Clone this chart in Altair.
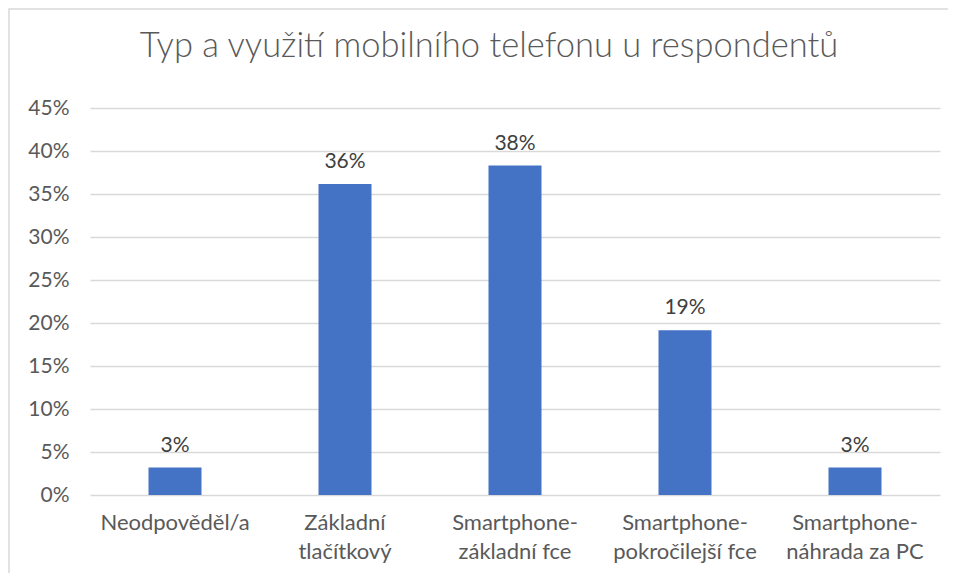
import altair as alt
import pandas as pd

categories = ["Neodpověděl/a", "Základní tlačítkový", "Smartphone-základní fce",
              "Smartphone-pokročilejší fce", "Smartphone-náhrada za PC"]
label_lines = [["Neodpověděl/a"], ["Základní", "tlačítkový"], ["Smartphone-", "základní fce"],
               ["Smartphone-", "pokročilejší fce"], ["Smartphone-", "náhrada za PC"]]
values = [0.0319, 0.3617, 0.3830, 0.1915, 0.0319]
y_ticks = [0, 0.05, 0.10, 0.15, 0.20, 0.25, 0.30, 0.35, 0.40, 0.45]
title_text = "Typ a využití mobilního telefonu u respondentů"

df = pd.DataFrame({"cat": categories, "val": values})

FONT = "Lato"
FS = 21

parts = []
for c, lines in zip(categories, label_lines):
    arr = "[" + ",".join("'" + l + "'" for l in lines) + "]"
    parts.append(f"datum.label == '{c}' ? {arr} : ")
label_expr = "".join(parts) + "datum.label"

x = alt.X("cat:N", sort=categories, title=None,
          scale=alt.Scale(paddingInner=0.69, paddingOuter=0.345),
          axis=alt.Axis(labelExpr=label_expr, labelAngle=0, labelFont=FONT, labelFontSize=22,
                        labelColor="#595959", labelLineHeight=29, labelPadding=17,
                        domain=False, ticks=False, grid=False, labelBaseline="top"))
y = alt.Y("val:Q", title=None,
          scale=alt.Scale(domain=[0, 0.45], nice=False),
          axis=alt.Axis(values=y_ticks, format=".0%", labelFont=FONT, labelFontSize=FS,
                        labelColor="#595959", labelPadding=21, domain=False, ticks=False,
                        gridColor="#d9d9d9", gridWidth=1.5))

bars = alt.Chart(df).mark_bar(color="#4472C4", size=53).encode(x=x, y=y)
texts = alt.Chart(df).mark_text(baseline="bottom", dy=-12, font=FONT, fontSize=FS,
                                color="#404040").encode(
    x=alt.X("cat:N", sort=categories),
    y=alt.Y("val:Q"),
    text=alt.Text("val:Q", format=".0%"))

one = pd.DataFrame({"t": [title_text]})
border = alt.Chart(one).mark_rect(
    fillOpacity=0, stroke="#d9d9d9", strokeWidth=1.5, clip=False).encode(
    x=alt.value(-81), x2=alt.value(1000), y=alt.value(-99), y2=alt.value(600))
title = alt.Chart(one).mark_text(font=FONT, fontSize=34.5, fontWeight=300, color="#595959",
                                 baseline="alphabetic", align="center").encode(
    x=alt.value(399), y=alt.value(-51), text="t:N")

chart = alt.layer(border, title, bars, texts).properties(
    width=850, height=387,
    background="white",
    autosize=alt.AutoSizeParams(type="none"),
    padding={"left": 82, "top": 100, "right": 8, "bottom": 78},
).configure_view(stroke=None, strokeWidth=0)

chart.save("out.html", embed_options={"renderer": "svg", "actions": False})
